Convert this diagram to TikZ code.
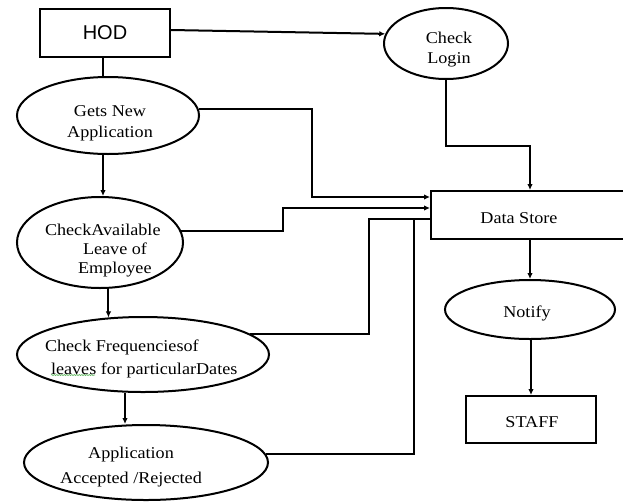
\documentclass[tikz,border=0pt]{standalone}
\usepackage{fontspec}
\setmainfont{Liberation Serif}[FakeStretch=1.1]
\newfontfamily\hodfont{Liberation Sans}
\usetikzlibrary{shapes.geometric,arrows.meta,decorations.pathmorphing}

\begin{document}
\begin{tikzpicture}[x=1pt,y=-1pt,
  line width=2pt,
  proc/.style={ellipse,draw,inner sep=0pt},
  box/.style={rectangle,draw,inner sep=0pt},
  lbl/.style={align=center,inner sep=0pt,font=\fontsize{16.5}{21}\selectfont},
  flow/.style={-{Latex[length=6pt,width=5.5pt]}},
  link/.style={},
  squiggle/.style={draw=green!55!black,opacity=0.6,line width=0.6pt,
    decorate,decoration={snake,amplitude=0.6pt,segment length=2.5pt}}]
\clip (0,0) rectangle (623,501);

% processes and entities
\node[box,minimum width=130pt,minimum height=48pt,font=\hodfont\fontsize{20}{24}\selectfont] (HOD) at (105,33) {HOD};

\node[proc,minimum width=124pt,minimum height=71pt] (CL) at (446,43.5) {};
\node[lbl,font=\fontsize{16.5}{20}\selectfont] (CLt) at (449,50) {Check\\Login};

\node[proc,minimum width=182pt,minimum height=77pt] (GNA) at (108,115.5) {};
\node[lbl] (GNAt) at (110,123) {Gets New\\Application};

\node[proc,minimum width=166pt,minimum height=91pt] (CAL) at (100,242.5) {};
\node[lbl,align=left,anchor=west,font=\fontsize{16.5}{19}\selectfont] (CALt) at (44,251)
  {CheckAvailable\\\hspace*{38pt}Leave of\\\hspace*{33pt}Employee};

\node[proc,minimum width=252pt,minimum height=75pt] (CFL) at (143,354.5) {};
\node[lbl,align=left,anchor=west,font=\fontsize{16.5}{23}\selectfont] (CFLt) at (44,359)
  {Check Frequenciesof\\\hspace*{6pt}leaves for particularDates};
% spell-check mark under "leaves"
\coordinate (sq1) at (51,375);
\coordinate (sq2) at (95,375);
\draw[squiggle] (sq1) -- (sq2);

\node[proc,minimum width=244pt,minimum height=75pt] (AAR) at (146,462.5) {};
\node[lbl,font=\fontsize{16.5}{25}\selectfont] (AARt) at (131,467) {Application\\Accepted /Rejected};

\node[box,minimum width=198pt,minimum height=48pt] (DS) at (530,215) {};
\node[lbl] (DSt) at (519,218) {Data Store};

\node[proc,minimum width=170pt,minimum height=59pt] (NT) at (530,309.5) {};
\node[lbl] (NTt) at (527,313) {Notify};

\node[box,minimum width=130pt,minimum height=47pt] (ST) at (531,419.5) {};
\node[lbl] (STt) at (532,422) {STAFF};

% bend points of the connectors
\coordinate (g1) at (312,197);
\coordinate (c1) at (283,208);
\coordinate (f1) at (369,219);
\coordinate (a1) at (414,219);
\coordinate (l1) at (530,146);

% connectors
\draw[flow] ([yshift=3pt]HOD.east) -- (CL.171);
\draw[link] ([xshift=-2pt]HOD.south) -- ([xshift=-5pt]GNA.north);
\draw[flow] ([xshift=-5pt]GNA.south) -- ([xshift=3pt]CAL.north);
\draw[flow] (CAL.south -| CFL.133.8) -- (CFL.133.8);
\draw[flow] ([xshift=-18pt]CFL.south) -- ([xshift=-21pt]AAR.north);

\draw[flow] (GNA.4.5) -| (g1) -- (g1 -| DS.west);
\draw[flow] (CAL.8.5) -| (c1) -- (c1 -| DS.west);
\draw[link] (CFL.11.3) -| (f1) -- (f1 -| DS.west);
\draw[link] (AAR.4.3) -| (a1);
\draw[flow] (CL.south) |- (l1) -- (DS.north);

\draw[flow] (DS.south) -- (NT.north);
\draw[flow] (NT.south -| ST.north) -- (ST.north);
\end{tikzpicture}
\end{document}
